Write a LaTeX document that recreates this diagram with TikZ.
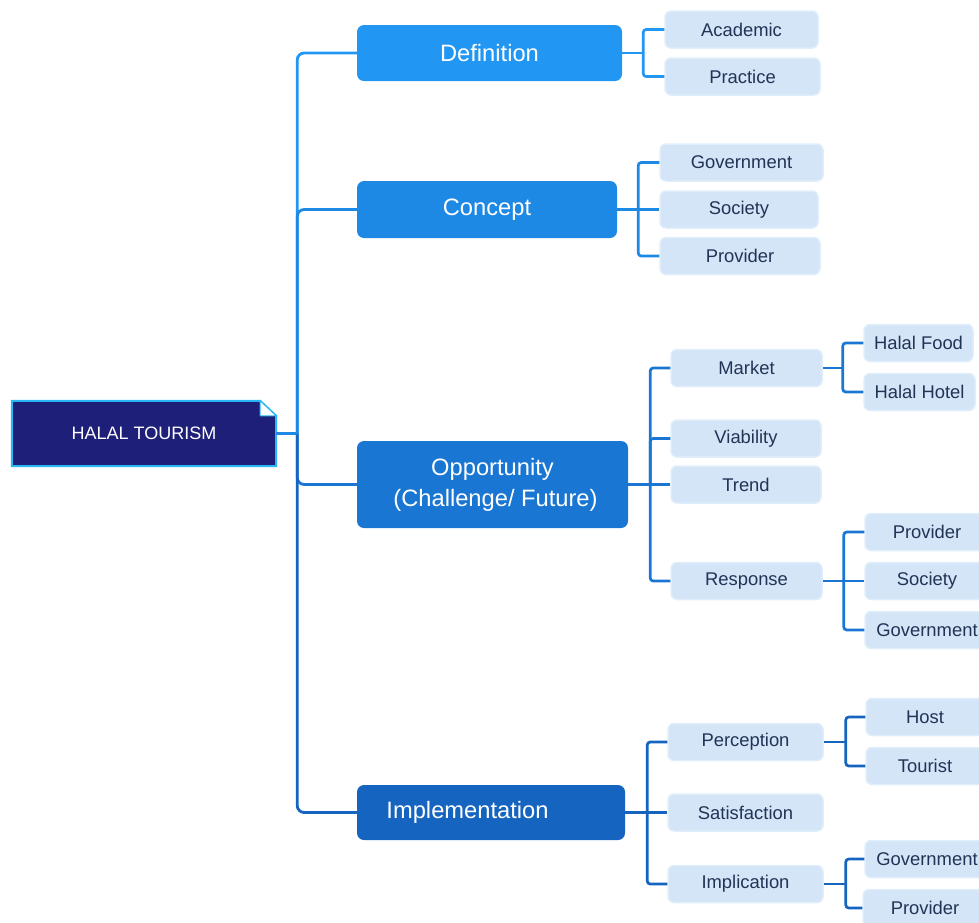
\documentclass[tikz,border=0pt]{standalone}
\usepackage{fontspec}
\setmainfont{Liberation Sans}
\definecolor{navy}{HTML}{1E1F78}
\definecolor{rootedge}{HTML}{29B6F6}
\definecolor{cA}{HTML}{2196F3}
\definecolor{cB}{HTML}{1E88E5}
\definecolor{cC}{HTML}{1976D2}
\definecolor{cD}{HTML}{1565C0}
\definecolor{leaffill}{HTML}{D3E5F7}
\definecolor{leafedge}{HTML}{E0EEFB}
\definecolor{leaftext}{HTML}{223455}
\begin{document}
\begin{tikzpicture}[x=1pt,y=-1pt,
  lone/.style={rounded corners=7pt, text=white, font=\fontsize{23.7}{31}\selectfont, align=center, inner sep=0pt},
  leaf/.style={rounded corners=6pt, fill=leaffill, draw=leafedge, line width=1.5pt, text=leaftext, font=\fontsize{18.4}{22}\selectfont, inner sep=0pt, minimum height=37pt},
  br/.style={line width=2.7pt, rounded corners=3pt},
  trunk/.style={line width=2.8pt, rounded corners=7pt}]
\useasboundingbox (0,0) rectangle (979,922);
\clip (0,0) rectangle (979,922);
% root
\node[inner sep=0pt, minimum width=264pt, minimum height=65pt, text=white, font=\fontsize{18}{22}\selectfont] (root) at (144,433.5) {};
\fill[navy] (root.north west) -- ([xshift=-16pt]root.north east) -- ([yshift=-15pt]root.north east) -- (root.south east) -- (root.south west) -- cycle;
\draw[rootedge, line width=2pt] (root.north west) -- ([xshift=-16pt]root.north east) -- ([yshift=-15pt]root.north east) -- (root.south east) -- (root.south west) -- cycle;
\filldraw[fill=white, draw=rootedge, line width=1pt] ([xshift=-16pt]root.north east) -- ([xshift=-16pt,yshift=-15pt]root.north east) -- ([yshift=-15pt]root.north east) -- cycle;
\node[text=white, font=\fontsize{18}{22}\selectfont] (roottext) at (root.center) {HALAL TOURISM};
% level 1
\node[lone, fill=cA, minimum width=265pt, minimum height=56pt] (def) at (489.5,53) {Definition};
\node[lone, fill=cB, minimum width=260pt, minimum height=57pt] (con) at (487,209.5) {Concept};
\node[lone, fill=cC, minimum width=271pt, minimum height=87pt] (opp) at (492.5,484.5) {Opportunity\\\hspace*{6pt}(Challenge/ Future)};
\node[lone, fill=cD, minimum width=268pt, minimum height=55pt] (imp) at (491,812.5) {Implementation\hspace*{47pt}};
% leaves: definition
\node[leaf, minimum width=153pt] (aca) at (741.5,29.5) {Academic};
\node[leaf, minimum width=155pt] (pra) at (742.5,76.5) {Practice};
% concept
\node[leaf, minimum width=163pt] (cgov) at (741.5,162.5) {Government};
\node[leaf, minimum width=158pt] (csoc) at (739,209.5) {Society};
\node[leaf, minimum width=160pt] (cpro) at (740,256) {Provider};
% opportunity
\node[leaf, minimum width=151pt] (mkt) at (746.5,368) {Market};
\node[leaf, minimum width=150pt] (via) at (746,438.5) {Viability};
\node[leaf, minimum width=150pt] (tre) at (746,484.5) {Trend};
\node[leaf, minimum width=151pt] (res) at (746.5,581) {Response};
\node[leaf, minimum width=109pt] (hfood) at (918.5,343) {Halal Food};
\node[leaf, minimum width=111pt] (hhot) at (919.5,392) {Halal Hotel};
\node[leaf, minimum width=124pt] (rpro) at (927,532) {Provider};
\node[leaf, minimum width=124pt] (rsoc) at (927,581) {Society};
\node[leaf, minimum width=124pt] (rgov) at (927,630) {Government};
% implementation
\node[leaf, minimum width=155pt] (per) at (745.5,742) {Perception};
\node[leaf, minimum width=155pt] (sat) at (745.5,812.5) {Satisfaction};
\node[leaf, minimum width=155pt] (imc) at (745.5,884) {Implication};
\node[leaf, minimum width=118pt] (host) at (925,717) {Host};
\node[leaf, minimum width=118pt] (tou) at (925,766) {Tourist};
\node[leaf, minimum width=124pt] (igov) at (927,859) {Government};
\node[leaf, minimum width=124pt] (ipro) at (925,908) {Provider};
% junction points
\coordinate (jr) at ([xshift=21pt]root.east);
\coordinate (jdef) at ([xshift=21pt]def.east);
\coordinate (jcon) at ([xshift=21pt]con.east);
\coordinate (jopp) at ([xshift=22pt]opp.east);
\coordinate (jmkt) at ([xshift=20pt]mkt.east);
\coordinate (jres) at ([xshift=21pt]res.east);
\coordinate (jimp) at ([xshift=22pt]imp.east);
\coordinate (jper) at ([xshift=22pt]per.east);
\coordinate (jimc) at ([xshift=22pt]imc.east);
% connectors
\draw[trunk, cA] (jr) |- (def.west);
\draw[trunk, cB] (jr) |- (con.west);
\draw[trunk, cC] (jr) |- (opp.west);
\draw[trunk, cD] (jr) |- (imp.west);
\draw[line width=2.8pt, cB] (root.east) -- (jr);
\draw[br, cA] (jdef) |- (aca.west);
\draw[br, cA] (jdef) |- (pra.west);
\draw[br, cA] (def.east) -- (jdef);
\draw[br, cB] (jcon) |- (cgov.west);
\draw[br, cB] (jcon) |- (cpro.west);
\draw[br, cB] (con.east) -- (csoc.west);
\draw[br, cC] (jopp) |- (mkt.west);
\draw[br, cC] (jopp) |- (via.west);
\draw[br, cC] (jopp) |- (res.west);
\draw[br, cC] (opp.east) -- (tre.west);
\draw[br, cC] (jmkt) |- (hfood.west);
\draw[br, cC] (jmkt) |- (hhot.west);
\draw[br, cC] (mkt.east) -- (jmkt);
\draw[br, cC] (jres) |- (rpro.west);
\draw[br, cC] (jres) |- (rgov.west);
\draw[br, cC] (res.east) -- (rsoc.west);
\draw[br, cD] (jimp) |- (per.west);
\draw[br, cD] (jimp) |- (imc.west);
\draw[br, cD] (imp.east) -- (sat.west);
\draw[br, cD] (jper) |- (host.west);
\draw[br, cD] (jper) |- (tou.west);
\draw[br, cD] (per.east) -- (jper);
\draw[br, cD] (jimc) |- (igov.west);
\draw[br, cD] (jimc) |- (ipro.west);
\draw[br, cD] (imc.east) -- (jimc);
\end{tikzpicture}
\end{document}
